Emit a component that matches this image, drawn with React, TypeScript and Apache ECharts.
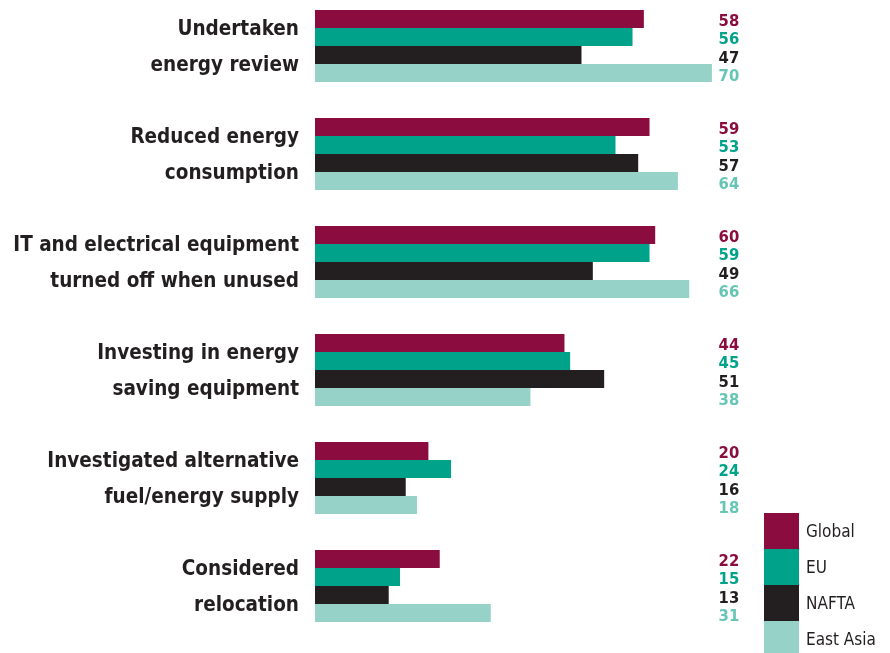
import React, { useEffect, useRef } from "react";
import * as echarts from "echarts";

const categories = [
  "Undertaken\nenergy review",
  "Reduced energy\nconsumption",
  "IT and electrical equipment\nturned off when unused",
  "Investing in energy\nsaving equipment",
  "Investigated alternative\nfuel/energy supply",
  "Considered\nrelocation",
];
const seriesNames = ["Global", "EU", "NAFTA", "East Asia"];
const globalValues = [58, 59, 60, 44, 20, 22];
const euValues = [56, 53, 59, 45, 24, 15];
const naftaValues = [47, 57, 49, 51, 16, 13];
const eastAsiaValues = [70, 64, 66, 38, 18, 31];
const barColors = ["#8B0D40", "#00A28A", "#231F20", "#96D2C8"];
const labelColors = ["#8B0D40", "#00A28A", "#231F20", "#66C5B5"];

const AXIS_MAX = 75;
const FONT = "'Liberation Sans Narrow', 'DejaVu Sans Condensed', Arial, sans-serif";

export default function App() {
  const ref = useRef<HTMLDivElement>(null);
  useEffect(() => {
    if (!ref.current) return;
    const chart = echarts.init(ref.current, null, { renderer: "svg" });
    const all = [globalValues, euValues, naftaValues, eastAsiaValues];
    const series: any[] = [];
    all.forEach((vals, i) => {
      series.push({
        name: seriesNames[i],
        type: "bar",
        stack: "s" + i,
        data: vals,
        itemStyle: { color: barColors[i] },
        barGap: "0%",
        barCategoryGap: "33.33%",
        emphasis: { disabled: true },
      });
      series.push({
        name: seriesNames[i] + "_pad",
        type: "bar",
        stack: "s" + i,
        data: vals.map((v) => AXIS_MAX - v),
        itemStyle: { color: "rgba(0,0,0,0)" },
        barGap: "0%",
        barCategoryGap: "33.33%",
        emphasis: { disabled: true },
        label: {
          show: true,
          position: "insideRight",
          distance: 1,
          offset: [0, 2],
          formatter: (p: any) => String(vals[p.dataIndex]),
          color: labelColors[i],
          fontFamily: FONT,
          fontWeight: "bold",
          fontSize: 16.5,
          lineHeight: 16,
        },
      });
    });
    chart.setOption({
      animation: false,
      grid: {
        left: 315,
        top: -8,
        width: AXIS_MAX * 5.67,
        height: 648,
        containLabel: false,
        outerBoundsMode: "none",
      },
      xAxis: { type: "value", min: 0, max: AXIS_MAX, show: false },
      yAxis: {
        type: "category",
        inverse: true,
        data: categories,
        axisLine: { show: false },
        axisTick: { show: false },
        axisLabel: {
          margin: 16,
          fontFamily: FONT,
          fontWeight: "bold",
          fontSize: 20.5,
          lineHeight: 36,
          padding: [0, 0, 4, 0],
          color: "#231F20",
        },
      },
      legend: {
        data: seriesNames,
        orient: "vertical",
        left: 764,
        top: 513,
        height: 170,
        padding: 0,
        itemWidth: 35,
        itemHeight: 36,
        itemGap: 0,
        icon: "rect",
        selectedMode: false,
        textStyle: { fontFamily: FONT, fontSize: 17, color: "#231F20", padding: [0, 0, 0, 2] },
      },
      series,
    });
    return () => chart.dispose();
  }, []);
  return (
    <div
      ref={ref}
      style={{ position: "fixed", left: 0, top: 0, width: 890, height: 653 }}
    />
  );
}
